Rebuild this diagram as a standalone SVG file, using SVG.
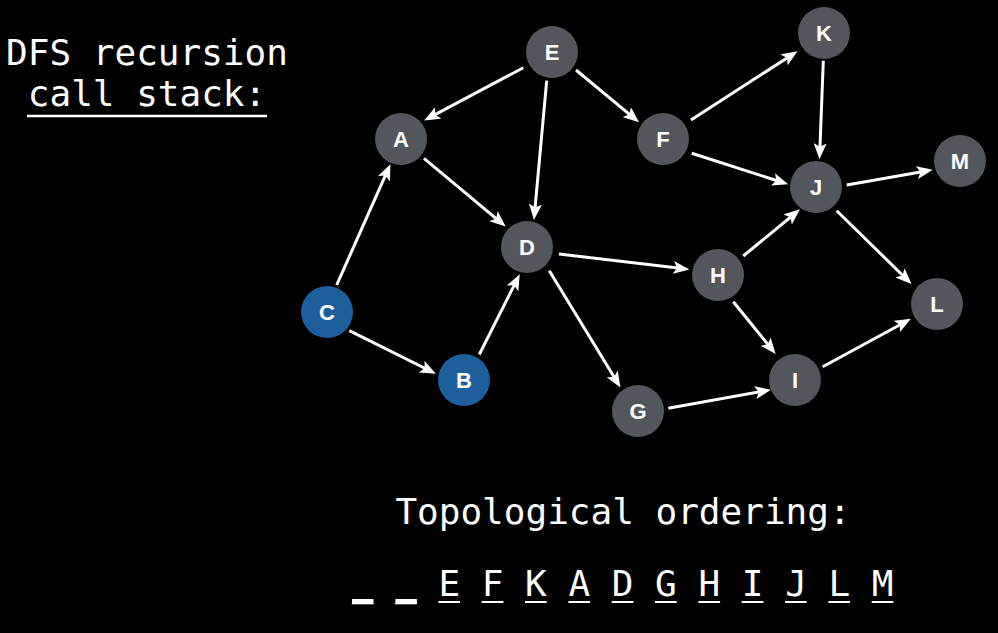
<svg xmlns="http://www.w3.org/2000/svg" width="998" height="633" viewBox="0 0 998 633">
<defs>
<marker id="ah" markerUnits="userSpaceOnUse" markerWidth="17" markerHeight="13" refX="11" refY="6.5" orient="auto">
<path d="M0,0 L16,6.5 L0,13 L3.5,6.5 z" fill="#ffffff"/>
</marker>
</defs>
<style>
.n circle{fill:#53565c}
.n.blue circle{fill:#1c5f9c}
.n text{font-family:"Liberation Sans",Arial,sans-serif;font-weight:bold;font-size:22px;fill:#ffffff;text-anchor:middle}
.e line{stroke:#ffffff;stroke-width:3;marker-end:url(#ah)}
.t{font-family:"DejaVu Sans Mono",monospace;font-size:36px;fill:#ffffff}
.ul{stroke:#ffffff}
</style>
<rect width="998" height="633" fill="#000000"/>
<g id="title">
<text class="t" x="147" y="65" text-anchor="middle">DFS recursion</text>
<text class="t" x="147" y="106" text-anchor="middle">call stack:</text>
<line class="ul" x1="27" y1="116" x2="267" y2="116" stroke-width="2.5"/>
</g>
<g id="connectors" class="e">
<line x1="523.3" y1="67.7" x2="428.5" y2="118.1"/>
<line x1="546.7" y1="80.7" x2="534.4" y2="215.0"/>
<line x1="576" y1="70" x2="635.2" y2="119.1"/>
<line x1="691" y1="120" x2="793.3" y2="53.9"/>
<line x1="691.7" y1="153.3" x2="783.5" y2="182.8"/>
<line x1="823.3" y1="60.7" x2="819.7" y2="154.3"/>
<line x1="846.7" y1="185" x2="927.8" y2="170.7"/>
<line x1="836.7" y1="210.7" x2="907.9" y2="280.5"/>
<line x1="424" y1="158.3" x2="501.9" y2="223.4"/>
<line x1="336.7" y1="285" x2="388.4" y2="168.7"/>
<line x1="349.3" y1="330.7" x2="431.4" y2="371.5"/>
<line x1="479.3" y1="354.5" x2="517.5" y2="278.6"/>
<line x1="559" y1="254" x2="684.3" y2="268.8"/>
<line x1="549.3" y1="270.7" x2="617.9" y2="383.3"/>
<line x1="743.3" y1="256" x2="796.2" y2="212.5"/>
<line x1="733.3" y1="301.7" x2="772.5" y2="350.2"/>
<line x1="668.3" y1="408.3" x2="766.1" y2="390.7"/>
<line x1="822.7" y1="366.7" x2="906.5" y2="321.2"/>
</g>
<g id="E" class="n"><circle cx="552" cy="52" r="26"/><text x="552" y="60">E</text></g>
<g id="A" class="n"><circle cx="401" cy="139" r="26"/><text x="401" y="147">A</text></g>
<g id="F" class="n"><circle cx="663" cy="139" r="26"/><text x="663" y="147">F</text></g>
<g id="K" class="n"><circle cx="824" cy="33" r="26"/><text x="824" y="41">K</text></g>
<g id="M" class="n"><circle cx="960" cy="161" r="26"/><text x="960" y="169">M</text></g>
<g id="J" class="n"><circle cx="816" cy="187" r="26"/><text x="816" y="195">J</text></g>
<g id="D" class="n"><circle cx="527" cy="247" r="26"/><text x="527" y="255">D</text></g>
<g id="H" class="n"><circle cx="718" cy="275" r="26"/><text x="718" y="283">H</text></g>
<g id="L" class="n"><circle cx="937" cy="304" r="26"/><text x="937" y="312">L</text></g>
<g id="C" class="n blue"><circle cx="327" cy="312" r="26"/><text x="327" y="320">C</text></g>
<g id="B" class="n blue"><circle cx="464" cy="380" r="26"/><text x="464" y="388">B</text></g>
<g id="I" class="n"><circle cx="795" cy="380" r="26"/><text x="795" y="388">I</text></g>
<g id="G" class="n"><circle cx="638" cy="411" r="26"/><text x="638" y="419">G</text></g>
<g id="ordering">
<text class="t" x="623" y="524" text-anchor="middle">Topological ordering:</text>
<text class="t" x="351.7" y="596" xml:space="preserve">_ _ E F K A D G H I J L M</text>
<rect x="352" y="599" width="21.5" height="5" fill="#ffffff"/>
<rect x="395.4" y="599" width="21.5" height="5" fill="#ffffff"/>
<g class="ul" stroke-width="2">
<line x1="438.4" y1="602" x2="460.1" y2="602"/>
<line x1="481.7" y1="602" x2="503.4" y2="602"/>
<line x1="525.0" y1="602" x2="546.7" y2="602"/>
<line x1="568.4" y1="602" x2="590.1" y2="602"/>
<line x1="611.7" y1="602" x2="633.4" y2="602"/>
<line x1="655.0" y1="602" x2="676.7" y2="602"/>
<line x1="698.4" y1="602" x2="720.1" y2="602"/>
<line x1="741.7" y1="602" x2="763.4" y2="602"/>
<line x1="785.0" y1="602" x2="806.7" y2="602"/>
<line x1="828.4" y1="602" x2="850.1" y2="602"/>
<line x1="871.7" y1="602" x2="893.4" y2="602"/>
</g>
</g>
</svg>
